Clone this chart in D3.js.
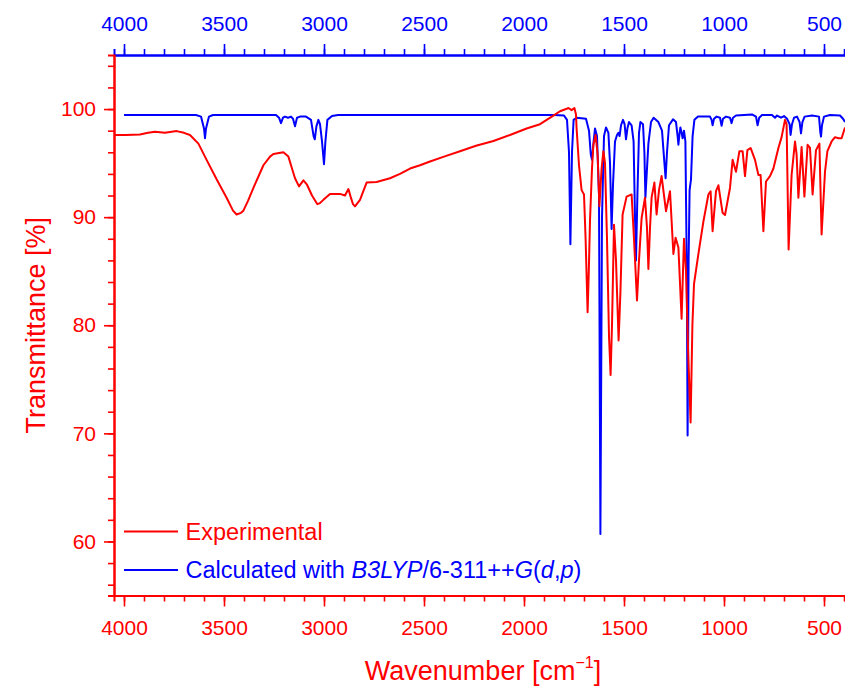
<!DOCTYPE html>
<html>
<head>
<meta charset="utf-8">
<script src="https://cdn.jsdelivr.net/npm/d3@7"></script>
<style>
  body { margin: 0; background: #fff; }
  svg { display: block; font-family: "Liberation Sans", Arial, sans-serif; }
</style>
</head>
<body>
<svg id="chart"></svg>
<script>
const SIZE = { width: 845, height: 692 }
const MARGIN = { left: 114, right: 0, top: 55, bottom: 96.5 }
const RED = "#ff0000"
const BLUE = "#0000ff"

// wavenumber axis (reversed), transmittance axis
const xDomain = [4050, 395]
const yDomain = [55, 105]
const xMajor = [4000, 3500, 3000, 2500, 2000, 1500, 1000, 500]
const yMajor = [60, 70, 80, 90, 100]

// experimental spectrum [wavenumber, T%]
const experimental = [
  [4050,97.6],[3990,97.6],[3920,97.65],[3880,97.8],[3845,97.9],[3795,97.8],[3737,97.96],[3700,97.8],
  [3670,97.6],[3628,96.8],[3587,95.3],[3537,93.5],[3487,91.8],[3455,90.6],[3437,90.25],[3415,90.4],
  [3403,90.6],[3380,91.5],[3353,92.7],[3303,94.8],[3270,95.6],[3253,95.85],[3203,96.0],[3178,95.6],
  [3160,94.5],[3145,93.6],[3125,92.85],[3103,93.4],[3085,93.0],[3060,92.0],[3033,91.2],[3020,91.3],
  [3003,91.6],[2970,92.15],[2920,92.15],[2895,92.0],[2878,92.6],[2867,91.9],[2855,91.2],[2845,91.0],
  [2820,91.6],[2787,93.2],[2737,93.25],[2670,93.6],[2620,94.0],[2570,94.5],[2520,94.8],[2470,95.15],
  [2400,95.6],[2320,96.1],[2240,96.6],[2153,97.05],[2070,97.6],[1987,98.2],[1920,98.6],[1853,99.4],
  [1820,99.8],[1790,100.0],[1778,100.1],[1762,99.9],[1748,100.1],[1740,99.5],[1737,98.2],[1725,94.8],
  [1712,92.5],[1700,92.1],[1692,88],[1682,81.2],[1676,85],[1670,89.7],[1660,94.5],[1653,96.7],
  [1642,97.6],[1632,95.8],[1623,91.0],[1612,94.5],[1603,96.1],[1595,95],[1585,88],[1575,79],
  [1567,75.4],[1560,80],[1550,89.3],[1540,86],[1527,78.6],[1518,83],[1507,90.25],[1487,91.9],
  [1462,92.1],[1450,88],[1435,82.3],[1425,86],[1412,89.9],[1395,91.8],[1385,89],[1378,85.2],
  [1370,89],[1362,91.8],[1348,93.2],[1337,90.25],[1325,92.5],[1312,93.8],[1290,90.55],[1270,92.4],
  [1253,86.6],[1242,88.1],[1228,87.2],[1212,80.6],[1205,85],[1200,88.0],[1190,85],[1180,78],
  [1167,71.0],[1158,80],[1150,83.8],[1128,86.6],[1103,89.6],[1078,92.1],[1067,92.4],[1057,88.7],
  [1040,92.4],[1028,92.95],[1007,90.4],[995,90.2],[970,92.7],[957,95.3],[940,94.2],[923,96.1],
  [907,96.1],[895,93.8],[883,96.2],[867,96.4],[845,95.3],[828,93.9],[817,93.9],[803,88.7],
  [790,93.3],[770,93.8],[753,94.5],[728,96.4],[712,97.4],[695,99.0],[687,98.6],[677,87.0],
  [662,93.9],[645,97.0],[637,95.8],[628,91.8],[612,96.5],[598,91.9],[582,96.7],[570,96.4],
  [557,92.1],[540,96.2],[523,96.8],[512,88.4],[495,94.2],[483,96.1],[462,97.0],[445,97.4],
  [428,97.3],[412,97.3],[395,98.3]
]

// calculated spectrum (B3LYP/6-311++G(d,p))
const calculated = [
  [4000,99.45],[3640,99.45],[3615,99.3],[3600,98.2],[3595,97.3],[3590,98.2],[3575,99.3],[3555,99.45],
  [3240,99.45],[3225,99.2],[3215,98.7],[3205,99.2],[3195,99.3],[3180,99.2],[3165,99.3],[3155,99.1],
  [3145,98.4],[3135,99.2],[3120,99.3],[3090,99.3],[3065,99.0],[3052,97.5],[3046,97.2],[3038,98.4],
  [3028,99.0],[3020,98.6],[3010,97.0],[3000,94.9],[2993,97.0],[2983,99.0],[2960,99.35],[2930,99.45],
  [1850,99.45],[1800,99.4],[1785,99.0],[1775,96],[1768,87.5],[1760,96],[1752,99.0],[1737,99.2],
  [1690,99.1],[1675,98.0],[1666,95.8],[1660,95.3],[1652,97],[1645,98.2],[1635,97.5],[1625,92],
  [1618,60.7],[1610,90],[1600,97.5],[1590,98.3],[1578,97.8],[1570,95],[1562,88.9],[1555,93],
  [1545,97.0],[1535,97.6],[1528,97.8],[1522,97.5],[1515,98.5],[1505,99.0],[1497,98.6],[1490,97.2],
  [1483,98.2],[1475,98.8],[1462,98.5],[1452,97.0],[1445,90],[1440,86.0],[1433,92],[1425,97.8],
  [1418,98.8],[1405,98.6],[1398,96],[1393,91.8],[1385,94.5],[1378,96.8],[1365,98.8],[1352,99.2],
  [1328,98.8],[1310,98.0],[1300,95.5],[1292,93.6],[1285,96.0],[1275,98.5],[1255,99.05],[1240,98.8],
  [1232,97.5],[1228,96.7],[1222,97.8],[1218,98.3],[1212,97.8],[1207,97.3],[1200,98],[1193,97],
  [1186,85],[1182,69.8],[1177,86],[1172,92.5],[1165,93.5],[1157,97.5],[1148,99.0],[1130,99.3],
  [1070,99.3],[1062,99.0],[1057,98.5],[1050,99.1],[1037,99.3],[1020,99.2],[1012,98.45],[1005,99.1],
  [990,99.3],[970,99.2],[962,98.7],[955,99.2],[940,99.4],[860,99.5],[840,99.3],[832,98.5],
  [824,99.2],[810,99.45],[760,99.45],[745,99.2],[735,99.4],[715,99.2],[700,99.35],[685,99.1],
  [672,98.6],[667,97.6],[660,98.6],[650,99.2],[635,99.3],[622,98.8],[615,97.75],[608,98.8],
  [597,99.3],[560,99.4],[525,99.3],[518,97.8],[515,97.45],[510,98.5],[500,99.3],[470,99.45],
  [420,99.4],[405,99.1],[395,98.8]
]

const legendItems = [
  { color: RED, parts: [["Experimental", false]] },
  { color: BLUE, parts: [["Calculated with ", false], ["B3LYP", true], ["/6-311++", false], ["G", true],
                         ["(", false], ["d", true], [",", false], ["p", true], [")", false]] },
]

const svg = d3.select("svg#chart").attr("width", SIZE.width).attr("height", SIZE.height)

const xScale = d3.scaleLinear().domain(xDomain).range([MARGIN.left, SIZE.width - MARGIN.right])
const yScale = d3.scaleLinear().domain(yDomain).range([SIZE.height - MARGIN.bottom, MARGIN.top])
const xMinor = d3.range(4000, 399, -100)
const yMinor = d3.range(56, 105, 2)

svg.append("clipPath").attr("id", "plot-clip").append("rect")
  .attr("x", MARGIN.left).attr("y", MARGIN.top)
  .attr("width", SIZE.width - MARGIN.left - MARGIN.right)
  .attr("height", SIZE.height - MARGIN.top - MARGIN.bottom)

const line = d3.line().x(d => xScale(d[0])).y(d => yScale(d[1]))
const plot = svg.append("g").attr("clip-path", "url(#plot-clip)")
plot.append("path").datum(calculated)
  .attr("d", line).attr("fill", "none").attr("stroke", BLUE).attr("stroke-width", 2)
  .attr("stroke-linejoin", "round")
plot.append("path").datum(experimental)
  .attr("d", line).attr("fill", "none").attr("stroke", RED).attr("stroke-width", 2)
  .attr("stroke-linejoin", "round")

function styleAxis(g, color, size){
  g.select(".domain").attr("stroke", color).attr("stroke-width", 2)
  g.selectAll(".tick line").attr("stroke", color).attr("stroke-width", 1.6)
  g.selectAll(".tick text").attr("fill", color).style("font-size", size + "px")
    .style("font-family", "'Liberation Sans', Arial, sans-serif")
}

// minor ticks first, major axes on top
const bottomY = SIZE.height - MARGIN.bottom
svg.append("g").attr("transform", `translate(0,${bottomY})`)
  .call(d3.axisBottom(xScale).tickValues(xMinor).tickSize(6).tickFormat(""))
  .call(g => styleAxis(g, RED, 21))
svg.append("g").attr("transform", `translate(0,${bottomY})`)
  .call(d3.axisBottom(xScale).tickValues(xMajor).tickSize(11).tickSizeOuter(0).tickPadding(14).tickFormat(d3.format("d")))
  .call(g => styleAxis(g, RED, 21))

svg.append("g").attr("transform", `translate(0,${MARGIN.top})`)
  .call(d3.axisTop(xScale).tickValues(xMinor).tickSize(6).tickFormat(""))
  .call(g => styleAxis(g, BLUE, 21))
svg.append("g").attr("transform", `translate(0,${MARGIN.top})`)
  .call(d3.axisTop(xScale).tickValues(xMajor).tickSize(11).tickSizeOuter(0).tickPadding(13).tickFormat(d3.format("d")))
  .call(g => styleAxis(g, BLUE, 21))

svg.append("g").attr("transform", `translate(${MARGIN.left},0)`)
  .call(d3.axisLeft(yScale).tickValues(yMinor).tickSize(6).tickFormat(""))
  .call(g => styleAxis(g, RED, 21))
svg.append("g").attr("transform", `translate(${MARGIN.left},0)`)
  .call(d3.axisLeft(yScale).tickValues(yMajor).tickSize(10).tickSizeOuter(0).tickPadding(8))
  .call(g => styleAxis(g, RED, 21))

// axis titles
svg.append("text")
  .attr("transform", `translate(45,${(MARGIN.top + bottomY) / 2}) rotate(-90)`)
  .attr("text-anchor", "middle").attr("fill", RED).style("font-size", "27px")
  .text("Transmittance [%]")

const xTitle = svg.append("text")
  .attr("x", 483).attr("y", 680)
  .attr("text-anchor", "middle").attr("fill", RED).style("font-size", "27px")
xTitle.append("tspan").text("Wavenumber [cm")
xTitle.append("tspan").attr("dy", -12).style("font-size", "16px").text("\u22121")
xTitle.append("tspan").attr("dy", 12).text("]")

// legend
const legend = svg.append("g").attr("transform", "translate(124,531.5)")
legendItems.forEach((item, i) => {
  const row = legend.append("g").attr("transform", `translate(0,${i * 38.5})`)
  row.append("line").attr("x1", 0).attr("x2", 54).attr("y1", 0).attr("y2", 0)
    .attr("stroke", item.color).attr("stroke-width", 2)
  const t = row.append("text").attr("x", 61.5).attr("y", 8).attr("fill", item.color).style("font-size", "23.5px")
  item.parts.forEach(p => {
    t.append("tspan").style("font-style", p[1] ? "italic" : "normal").text(p[0])
  })
})
</script>
</body>
</html>
